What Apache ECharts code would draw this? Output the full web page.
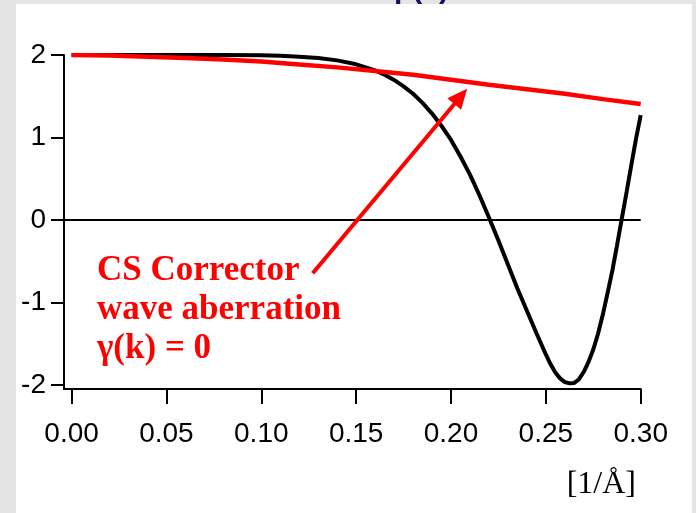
<!DOCTYPE html>
<html>
<head>
<meta charset="utf-8">
<script src="https://cdn.jsdelivr.net/npm/echarts@6/dist/echarts.min.js"></script>
<style>html,body{margin:0;padding:0;background:#e5e5e5;}#c{width:696px;height:513px;}</style>
</head>
<body>
<div id="c"></div>
<script>
// ---- data ----
var xTicks = [0, 0.05, 0.10, 0.15, 0.20, 0.25, 0.30];
var yTicks = [-2, -1, 0, 1, 2];

var blackK = [0, 0.02, 0.04, 0.06, 0.08, 0.10, 0.11, 0.12, 0.13, 0.14, 0.15, 0.16, 0.165, 0.17, 0.175, 0.18, 0.185, 0.19, 0.195, 0.20, 0.205, 0.21, 0.215, 0.22, 0.225, 0.23, 0.235, 0.24, 0.245, 0.2475, 0.25, 0.2525, 0.255, 0.2575, 0.26, 0.2625, 0.265, 0.2675, 0.27, 0.2725, 0.275, 0.2775, 0.28, 0.2825, 0.285, 0.2875, 0.29, 0.2925, 0.295, 0.2975, 0.30];
var blackV = [2, 2, 2, 2, 1.999, 1.996, 1.99, 1.98, 1.963, 1.935, 1.887, 1.812, 1.761, 1.698, 1.62, 1.53, 1.42, 1.29, 1.14, 0.97, 0.77, 0.55, 0.30, 0.03, -0.25, -0.54, -0.83, -1.10, -1.37, -1.50, -1.63, -1.75, -1.85, -1.92, -1.965, -1.98, -1.975, -1.93, -1.84, -1.72, -1.57, -1.38, -1.15, -0.89, -0.62, -0.31, 0.01, 0.33, 0.66, 0.98, 1.27];

var redK = [0, 0.02, 0.04, 0.06, 0.08, 0.10, 0.12, 0.14, 0.16, 0.18, 0.20, 0.22, 0.24, 0.26, 0.28, 0.30];
var redV = [2.00, 1.995, 1.98, 1.965, 1.945, 1.92, 1.885, 1.85, 1.805, 1.76, 1.70, 1.64, 1.585, 1.53, 1.465, 1.405];

var arrowStart = [0.1271, -0.646];
var arrowEnd = [0.2051, 1.498];

var annotationLines = ['CS Corrector', 'wave aberration', 'γ(k) = 0'];
var unitLabel = '[1/Å]';
var titleText = 'p(k)';

function zip(a, b) { return a.map(function (v, i) { return [v, b[i]]; }); }

var chart = echarts.init(document.getElementById('c'), null, { renderer: 'canvas' });
chart.setOption({
  backgroundColor: '#e5e5e5',
  animation: false,
  grid: { left: 64, right: 55.3, top: 55, bottom: 123.9, containLabel: false, outerBoundsMode: 'none' },
  xAxis: {
    type: 'value', min: -0.004, max: 0.30,
    axisLine: { show: true, onZero: false, lineStyle: { color: '#000', width: 2 } },
    axisTick: { show: true, length: 15, lineStyle: { color: '#000', width: 2 }, customValues: xTicks },
    axisLabel: { customValues: xTicks, color: '#000', fontFamily: 'Liberation Sans', fontSize: 28, margin: 31,
      formatter: function (v) { return v.toFixed(2); } },
    splitLine: { show: false }
  },
  yAxis: {
    type: 'value', min: -2.05, max: 2,
    axisLine: { show: true, onZero: false, lineStyle: { color: '#000', width: 2 } },
    axisTick: { show: true, length: 13, lineStyle: { color: '#000', width: 2 }, customValues: yTicks },
    axisLabel: { customValues: yTicks, color: '#000', fontFamily: 'Liberation Sans', fontSize: 28, margin: 18,
      formatter: function (v) { return String(v); } },
    splitLine: { show: false }
  },
  graphic: [
    { type: 'rect', z: -100, shape: { x: 16, y: 4, width: 676, height: 520 }, style: { fill: '#ffffff' }, silent: true },
    { type: 'text', z: 100, left: 394, top: -25, style: { text: titleText, fill: '#12126e', font: 'bold 30px "Liberation Sans"' }, silent: true },
    { type: 'text', z: 100, left: 97, top: 251, style: { text: annotationLines.join('\n'), fill: '#ff0000', font: 'bold 35px "Liberation Serif"', lineHeight: 39 }, silent: true },
    { type: 'text', z: 100, right: 60, top: 469, style: { text: unitLabel, fill: '#000', font: '32px "Liberation Serif"' }, silent: true }
  ],
  series: [
    {
      type: 'line', data: zip(blackK, blackV), showSymbol: false, smooth: false,
      lineStyle: { color: '#000', width: 4 }, z: 3,
      markLine: {
        silent: true, symbol: ['none', 'none'], label: { show: false },
        lineStyle: { color: '#000', width: 2, type: 'solid' },
        data: [{ yAxis: 0 }]
      }
    },
    {
      type: 'line', data: zip(redK, redV), showSymbol: false, smooth: false,
      lineStyle: { color: '#ff0000', width: 4.5 }, z: 4,
      markLine: {
        silent: true, symbol: ['none', 'triangle'], symbolSize: [18, 20], label: { show: false },
        lineStyle: { color: '#ff0000', width: 4, type: 'solid' },
        data: [[{ coord: arrowStart }, { coord: arrowEnd }]]
      }
    }
  ]
});
</script>
</body>
</html>
